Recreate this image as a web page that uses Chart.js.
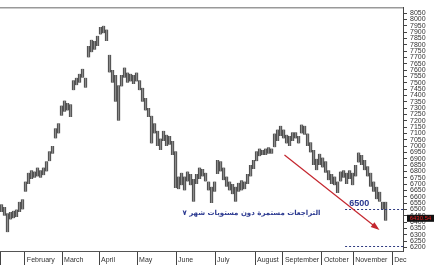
<!DOCTYPE html>
<html>
<head>
<meta charset="utf-8">
<script src="https://cdn.jsdelivr.net/npm/chart.js@4"></script>
<style>
  html, body { margin: 0; padding: 0; background: #fff; }
  #wrap { width: 435px; height: 265px; }
</style>
</head>
<body>
<div id="wrap"><canvas id="chart"></canvas></div>
<script>
// daily high/low ranges, one slot per bar
const lows = [
  6480, 6450, 6320, 6420, 6430, 6440, 6480, 6500, 6640, 6700,
  6740, 6750, 6760, 6750, 6770, 6800, 6880, 6940, 7060, 7100,
  7240, 7270, 7280, 7230, 7440, 7480, 7500, 7540, 7460, 7700,
  7740, 7760, 7790, 7880, 7890, 7830, 7580, 7500, 7350, 7200,
  7470, 7540, 7500, 7510, 7490, 7510, 7440, 7350, 7280, 7230,
  7020, 7100, 7000, 6970, 7040, 7000, 7010, 6930, 6670, 6660,
  6690, 6650, 6720, 6690, 6560, 6700, 6740, 6760, 6720, 6650,
  6550, 6640, 6780, 6800, 6730, 6680, 6650, 6620, 6560, 6640,
  6650, 6660, 6700, 6760, 6820, 6880, 6920, 6930, 6930, 6940,
  6940, 6990, 7040, 7080, 7060, 7020, 7000, 7040, 7060, 7020,
  7100, 7090, 7000, 6950, 6850, 6810, 6850, 6830, 6790, 6730,
  6700, 6690, 6630, 6720, 6750, 6700, 6740, 6690, 6760, 6870,
  6850, 6810, 6760, 6680, 6640, 6580, 6560, 6500, 6410
];
const highs = [
  6540, 6520, 6470, 6480, 6490, 6500, 6560, 6580, 6720, 6790,
  6810, 6800, 6830, 6810, 6830, 6880, 6960, 7000, 7140, 7180,
  7320, 7360, 7340, 7330, 7520, 7540, 7570, 7610, 7540, 7790,
  7840, 7830, 7870, 7940, 7950, 7920, 7720, 7600, 7560, 7480,
  7560, 7620, 7580, 7570, 7560, 7580, 7520, 7460, 7380, 7300,
  7240, 7180, 7120, 7060, 7120, 7090, 7080, 7040, 6960, 6760,
  6790, 6760, 6800, 6780, 6740, 6780, 6830, 6820, 6790, 6720,
  6680, 6720, 6890, 6880, 6830, 6760, 6720, 6700, 6680, 6710,
  6730, 6720, 6780, 6850, 6890, 6960, 6980, 6970, 6980, 6990,
  6980, 7100, 7130, 7160, 7130, 7090, 7080, 7110, 7110, 7080,
  7170, 7160, 7100, 7030, 6970, 6900, 6940, 6910, 6880, 6810,
  6780, 6760, 6720, 6800, 6810, 6790, 6810, 6790, 6850, 6950,
  6930, 6890, 6840, 6790, 6720, 6680, 6640, 6560, 6560
];

// month boundaries on the slot axis
const monthNames = ['', 'February', 'March', 'April', 'May', 'June', 'July',
  'August', 'September', 'October', 'November', 'Dec'];
const monthStarts = [-0.4, 7.8, 20.2, 32.5, 45.2, 58.2, 71.2, 84.5, 93.8, 106.8, 117.2, 130.2];

const lastPrice = '6430.54';
const supportLevel = 6500;
const lowerLevel = 6210;
const noteText = 'التراجعات مستمرة دون مستويات شهر ٧';

const bars = lows.map((lo, i) => ({ x: i, y: [lo, highs[i]] }));

const notes = {
  id: 'notes',
  afterDatasetsDraw(chart) {
    const { ctx, chartArea, scales: { x, y } } = chart;
    ctx.save();

    // top frame line
    ctx.strokeStyle = '#999';
    ctx.lineWidth = 1.5;
    ctx.beginPath();
    ctx.moveTo(0, chartArea.top + 0.5);
    ctx.lineTo(chartArea.right, chartArea.top + 0.5);
    ctx.stroke();

    // dotted levels
    ctx.strokeStyle = '#2e3a80';
    ctx.lineWidth = 1;
    ctx.setLineDash([2, 2]);
    [supportLevel, lowerLevel].forEach(v => {
      const py = Math.round(y.getPixelForValue(v)) + 0.5;
      ctx.beginPath();
      ctx.moveTo(x.getPixelForValue(114.5), py);
      ctx.lineTo(chartArea.right, py);
      ctx.stroke();
    });
    ctx.setLineDash([]);

    // red arrow
    const x0 = x.getPixelForValue(94.3), y0 = y.getPixelForValue(6930);
    const x1 = x.getPixelForValue(125.3), y1 = y.getPixelForValue(6350);
    ctx.strokeStyle = '#c4262e';
    ctx.fillStyle = '#c4262e';
    ctx.lineWidth = 1.2;
    ctx.beginPath();
    ctx.moveTo(x0, y0);
    ctx.lineTo(x1, y1);
    ctx.stroke();
    const a = Math.atan2(y1 - y0, x1 - x0);
    ctx.beginPath();
    ctx.moveTo(x1 + 2, y1 + 1.5);
    ctx.lineTo(x1 - 7 * Math.cos(a - 0.45), y1 - 7 * Math.sin(a - 0.45));
    ctx.lineTo(x1 - 7 * Math.cos(a + 0.45), y1 - 7 * Math.sin(a + 0.45));
    ctx.closePath();
    ctx.fill();

    // labels
    ctx.fillStyle = '#2b3990';
    ctx.textBaseline = 'middle';
    ctx.font = 'bold 9px "Liberation Sans", Arial, sans-serif';
    ctx.textAlign = 'center';
    ctx.fillText(String(supportLevel), x.getPixelForValue(119.2), y.getPixelForValue(6545));
    ctx.font = 'bold 7px "DejaVu Sans", sans-serif';
    ctx.textAlign = 'right';
    ctx.fillText(noteText, x.getPixelForValue(106.3), y.getPixelForValue(6470));

    // last price tag
    const ty = y.getPixelForValue(6430);
    ctx.fillStyle = '#111';
    ctx.fillRect(chartArea.right + 4, ty - 3.5, 27, 7);
    ctx.fillStyle = '#e02020';
    ctx.font = '6px "Liberation Sans", Arial, sans-serif';
    ctx.textAlign = 'center';
    ctx.fillText(lastPrice, chartArea.right + 17.5, ty + 0.5);
    ctx.restore();
  }
};

new Chart(document.getElementById('chart'), {
  type: 'bar',
  data: {
    datasets: [{
      data: bars,
      backgroundColor: '#8c8c8c',
      borderColor: '#3a3a3a',
      borderWidth: { left: 1, right: 1, top: 0, bottom: 0 },
      barThickness: 3,
      borderSkipped: false
    }]
  },
  plugins: [notes],
  options: {
    responsive: true,
    maintainAspectRatio: false,
    animation: false,
    layout: { padding: 0 },
    plugins: {
      legend: { display: false },
      tooltip: { enabled: false }
    },
    scales: {
      x: {
        type: 'linear',
        offset: false,
        min: -0.5,
        max: 133.8,
        afterBuildTicks: (scale) => {
          scale.ticks = monthStarts.map(v => ({ value: v }));
        },
        afterFit: (scale) => { scale.height = 14; },
        ticks: {
          autoSkip: false,
          maxRotation: 0,
          align: 'start',
          padding: -9,
          color: '#333',
          font: { size: 7, family: '"Liberation Sans", Arial, sans-serif' },
          callback: (v, i) => ' ' + monthNames[i]
        },
        grid: { drawOnChartArea: false, offset: false, tickLength: 14, color: '#444' },
        border: { color: '#555' }
      },
      y: {
        position: 'right',
        min: 6172,
        max: 8096,
        afterFit: (scale) => { scale.width = 32; },
        ticks: {
          stepSize: 50,
          includeBounds: false,
          autoSkip: false,
          padding: 3,
          color: '#333',
          font: { size: 7, family: '"Liberation Sans", Arial, sans-serif' },
          callback: (v) => String(v)
        },
        grid: { drawOnChartArea: false, tickLength: 4, color: '#444' },
        border: { color: '#444' }
      }
    }
  }
});
</script>
</body>
</html>
